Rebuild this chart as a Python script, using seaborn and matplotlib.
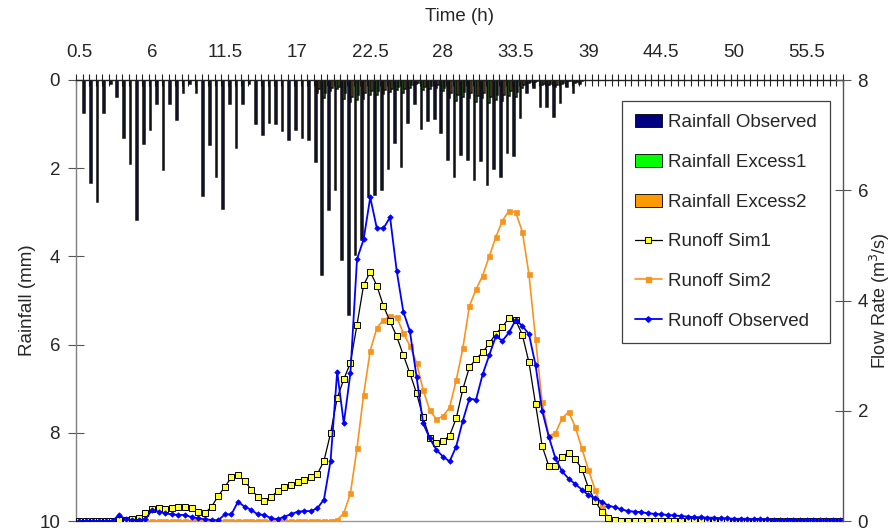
import numpy as np
import pandas as pd
import matplotlib
matplotlib.use("Agg")
import matplotlib.pyplot as plt
import seaborn as sns
from matplotlib.patches import Patch
from matplotlib.lines import Line2D

# ---- data -------------------------------------------------------------
# time axis, half-hour steps
time_h = np.arange(0.5, 58.01, 0.5)
time_labels = [f"{t:g}" for t in time_h]

# rainfall (mm) for the first 78 time steps
rain_observed = [0.00, 0.74, 2.33, 2.76, 0.74, 0.10, 0.39, 1.32, 1.90, 3.17,
                 1.44, 1.13, 0.54, 2.04, 0.54, 0.91, 0.29, 0.10, 0.29, 2.63,
                 1.47, 2.21, 2.93, 0.54, 1.55, 0.54, 0.10, 1.00, 1.25, 0.98,
                 1.00, 1.16, 1.35, 1.13, 1.31, 1.35, 1.85, 4.42, 2.95, 2.50,
                 4.08, 5.32, 3.97, 3.63, 2.65, 2.60, 2.49, 2.02, 1.43, 1.97,
                 0.98, 0.54, 1.12, 0.94, 0.89, 1.20, 1.81, 2.20, 1.70, 1.81,
                 2.27, 1.83, 2.38, 2.02, 2.19, 1.66, 1.72, 0.86, 0.29, 0.19,
                 0.61, 0.61, 0.83, 0.53, 0.15, 0.30, 0.08, 0.00]
rain_excess1 = [0.0] * 36 + [
    0.30, 0.40, 0.25, 0.20, 0.42, 0.50, 0.45, 0.42, 0.35, 0.34,
    0.32, 0.28, 0.22, 0.30, 0.18, 0.10, 0.22, 0.20, 0.18, 0.25,
    0.40, 0.48, 0.38, 0.40, 0.50, 0.40, 0.52, 0.45, 0.48, 0.36,
    0.38, 0.18, 0.06, 0.04, 0.12, 0.12, 0.16, 0.10, 0.03, 0.06,
    0.02, 0.00]
rain_excess2 = [0.0] * 36 + [
    0.20, 0.30, 0.18, 0.15, 0.30, 0.38, 0.34, 0.30, 0.25, 0.24,
    0.22, 0.20, 0.15, 0.20, 0.12, 0.06, 0.15, 0.14, 0.12, 0.18,
    0.30, 0.35, 0.28, 0.30, 0.37, 0.30, 0.38, 0.33, 0.35, 0.26,
    0.27, 0.12, 0.04, 0.02, 0.08, 0.08, 0.11, 0.06, 0.02, 0.04,
    0.01, 0.00]

# runoff (m3/s)
runoff_sim1 = [0, 0, 0, 0, 0, 0, 0.01, 0.02, 0.03, 0.05,
               0.14, 0.21, 0.24, 0.22, 0.23, 0.26, 0.25, 0.23, 0.17, 0.14,
               0.26, 0.45, 0.62, 0.79, 0.83, 0.73, 0.57, 0.44, 0.36, 0.44,
               0.54, 0.61, 0.65, 0.70, 0.74, 0.80, 0.85, 1.09, 1.59, 2.23,
               2.57, 2.87, 3.56, 4.28, 4.52, 4.27, 3.90, 3.62, 3.35, 3.01,
               2.68, 2.32, 1.88, 1.50, 1.41, 1.45, 1.55, 1.86, 2.39, 2.79,
               2.94, 3.06, 3.22, 3.40, 3.52, 3.69, 3.64, 3.38, 2.88, 2.12,
               1.36, 1.00, 1.00, 1.17, 1.24, 1.12, 0.95, 0.60, 0.37, 0.17,
               0.05, 0.01, 0, 0, 0, 0, 0, 0, 0, 0,
               0, 0, 0, 0, 0, 0, 0, 0, 0, 0,
               0, 0, 0, 0, 0, 0, 0, 0, 0, 0,
               0, 0, 0, 0, 0, 0]
runoff_sim2 = [0, 0, 0, 0, 0, 0, 0, 0, 0, 0,
               0, 0, 0, 0, 0, 0, 0, 0, 0, 0,
               0, 0, 0, 0, 0, 0, 0, 0, 0, 0,
               0, 0, 0, 0, 0, 0, 0, 0, 0, 0.02,
               0.14, 0.50, 1.32, 2.29, 3.09, 3.50, 3.65, 3.71, 3.70, 3.41,
               3.18, 2.87, 2.38, 2.01, 1.85, 1.90, 2.06, 2.55, 3.13, 3.90,
               4.20, 4.45, 4.80, 5.15, 5.45, 5.63, 5.60, 5.25, 4.48, 3.31,
               2.15, 1.55, 1.59, 1.86, 1.98, 1.71, 1.32, 0.93, 0.57, 0.26,
               0.07, 0.01, 0, 0, 0, 0, 0, 0, 0, 0,
               0, 0, 0, 0, 0, 0, 0, 0, 0, 0,
               0, 0, 0, 0, 0, 0, 0, 0, 0, 0,
               0, 0, 0, 0, 0, 0]
runoff_observed = [0, 0, 0, 0, 0, 0, 0.11, 0.03, 0.02, 0.02,
                   0.03, 0.20, 0.17, 0.14, 0.12, 0.11, 0.11, 0.07, 0.05, 0.03,
                   0.02, 0.01, 0.12, 0.12, 0.35, 0.26, 0.20, 0.12, 0.11, 0.05,
                   0.03, 0.08, 0.12, 0.17, 0.18, 0.18, 0.23, 0.39, 1.09, 2.71,
                   1.77, 2.68, 4.75, 5.11, 5.87, 5.31, 5.31, 5.51, 4.54, 3.80,
                   3.44, 2.62, 1.77, 1.50, 1.29, 1.17, 1.08, 1.35, 1.82, 2.22,
                   2.20, 2.66, 3.01, 3.35, 3.27, 3.42, 3.65, 3.54, 3.39, 2.83,
                   2.00, 1.53, 1.14, 0.90, 0.77, 0.67, 0.57, 0.47, 0.41, 0.35,
                   0.28, 0.25, 0.21, 0.18, 0.17, 0.16, 0.14, 0.13, 0.12, 0.11,
                   0.10, 0.09, 0.08, 0.07, 0.07, 0.06, 0.06, 0.05, 0.05, 0.04,
                   0.04, 0.04, 0.03, 0.03, 0.03, 0.02, 0.02, 0.02, 0.02, 0.02,
                   0.01, 0.01, 0.01, 0.01, 0.01, 0.01]

rain_series = ["Rainfall Observed", "Rainfall Excess1", "Rainfall Excess2"]
rain_colors = ["#000080", "#00ff00", "#ff9900"]

# ---- style ------------------------------------------------------------
sns.set_style("white")
plt.rcParams["font.family"] = ["Liberation Sans", "DejaVu Sans"]
FS = 13.5

n_rain = len(rain_observed)
rain_df = pd.DataFrame({
    "time": time_labels[:n_rain] * 3,
    "mm": rain_observed + rain_excess1 + rain_excess2,
    "series": [s for s in rain_series for _ in range(n_rain)],
})
flow_df = pd.DataFrame({
    "pos": np.arange(len(time_h)),
    "sim1": runoff_sim1,
    "sim2": runoff_sim2,
    "obs": runoff_observed,
})

fig = plt.figure(figsize=(8.95, 5.32), dpi=100)
ax = fig.add_axes([76 / 895, 11 / 532, 767 / 895, 441 / 532])

# rainfall hyetograph hanging from the top (thin bars, dark outline)
sns.barplot(data=rain_df, x="time", y="mm", hue="series",
            order=time_labels, hue_order=rain_series,
            palette=rain_colors, width=0.75, errorbar=None,
            edgecolor="#111111", linewidth=1.1, legend=False, ax=ax)
ax.set_ylim(10, 0)
ax.set_yticks(np.arange(0, 11, 2))

# runoff hydrographs on the secondary axis
ax2 = ax.twinx()
sns.lineplot(data=flow_df, x="pos", y="sim2", ax=ax2, color="#f7941d",
             linewidth=1.2, marker="s", markersize=3.6,
             markerfacecolor="#f7941d", markeredgecolor="#f7941d",
             markeredgewidth=0.5)
sns.lineplot(data=flow_df, x="pos", y="sim1", ax=ax2, color="black",
             linewidth=0.9, marker="s", markersize=4.2,
             markerfacecolor="#ffff33", markeredgecolor="black",
             markeredgewidth=0.7)
sns.lineplot(data=flow_df, x="pos", y="obs", ax=ax2, color="#0000ff",
             linewidth=1.3, marker="D", markersize=2.8,
             markerfacecolor="#0000ff", markeredgecolor="#0000ff",
             markeredgewidth=0.5)
ax2.set_ylim(0, 8)
ax2.set_yticks(np.arange(0, 9, 2))
ax.set_xlim(-0.5, len(time_h) - 0.5)

# top time axis
ax.xaxis.tick_top()
ax.xaxis.set_label_position("top")
major_pos = list(range(0, len(time_h), 11))
ax.set_xticks(major_pos)
ax.set_xticklabels([time_labels[p] for p in major_pos], fontsize=FS)
ax.set_xticks(np.arange(-0.5, len(time_h), 1), minor=True)
ax.tick_params(axis="x", which="major", length=0, pad=13.5)
ax.tick_params(axis="x", which="minor", direction="inout", length=9,
               width=0.8, color="#222222", top=True, bottom=False)
ax.set_xlabel("Time (h)", fontsize=FS, labelpad=17)

ax.tick_params(axis="y", direction="inout", length=11, width=0.8,
               color="#555555", labelsize=FS, pad=6)
ax2.tick_params(axis="y", direction="inout", length=11, width=0.8,
                color="#555555", labelsize=FS, pad=5)
ax.set_ylabel("Rainfall (mm)", fontsize=FS, labelpad=2)
ax2.set_ylabel("Flow Rate (m$^3$/s)", fontsize=13, labelpad=0)

for side in ["top", "left", "bottom", "right"]:
    ax2.spines[side].set_visible(side == "right")
ax.spines["right"].set_visible(False)
ax.spines["top"].set_color("#222222")
ax.spines["left"].set_color("#7f7f7f")
ax.spines["bottom"].set_color("#999999")
ax2.spines["right"].set_color("#555555")
for sp in ax.spines.values():
    sp.set_linewidth(1.0)
ax2.spines["right"].set_linewidth(1.0)
ax.grid(False)
ax2.grid(False)

handles = [Patch(facecolor=c, edgecolor="black", linewidth=0.6, label=s)
           for s, c in zip(rain_series, rain_colors)]
handles += [
    Line2D([], [], color="black", linewidth=0.9, marker="s", markersize=4.2,
           markerfacecolor="#ffff33", markeredgecolor="black",
           markeredgewidth=0.7, label="Runoff Sim1"),
    Line2D([], [], color="#f7941d", linewidth=1.2, marker="s",
           markersize=3.6, markerfacecolor="#f7941d",
           markeredgecolor="#f7941d", label="Runoff Sim2"),
    Line2D([], [], color="#0000ff", linewidth=1.3, marker="D",
           markersize=2.8, markerfacecolor="#0000ff",
           markeredgecolor="#0000ff", label="Runoff Observed"),
]
leg = ax2.legend(handles=handles, loc="upper right",
                 bbox_to_anchor=(0.983, 0.952), fontsize=FS,
                 frameon=True, fancybox=False, framealpha=1,
                 edgecolor="#404040", labelspacing=1.2, handlelength=1.4,
                 handletextpad=0.35, borderpad=0.7, borderaxespad=0)
leg.get_frame().set_linewidth(0.9)

fig.savefig("out.png", dpi=100)
